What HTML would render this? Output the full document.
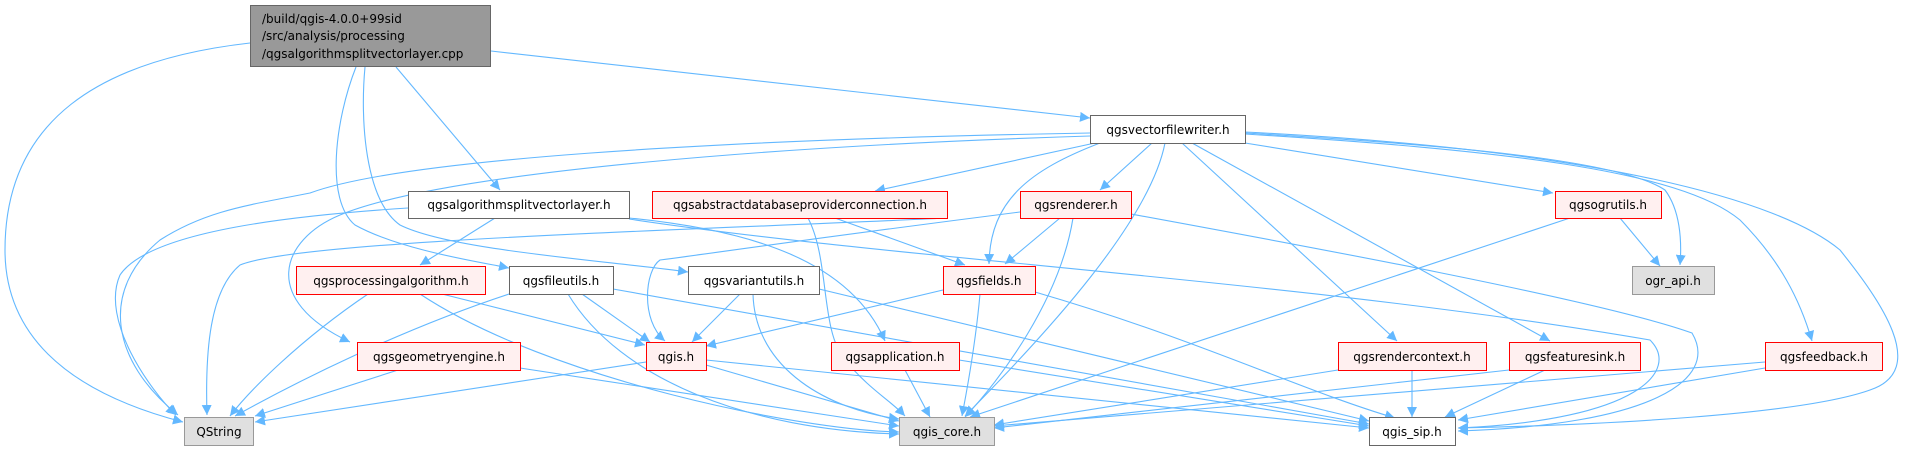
<!DOCTYPE html>
<html><head><meta charset="utf-8"><style>
html,body{margin:0;padding:0;background:#fff}
svg{display:block}
text{font-family:"DejaVu Sans","Liberation Sans",sans-serif;font-size:12px;fill:#000}
.e{fill:none;stroke:#63b8ff;stroke-width:1.1}
</style></head><body>
<svg width="1905" height="451" viewBox="0 0 1905 451" xmlns="http://www.w3.org/2000/svg">
<defs><marker id="a" markerUnits="userSpaceOnUse" markerWidth="11" markerHeight="10" refX="10" refY="5" orient="auto"><path d="M0,0 L10,5 L0,10 Z" fill="#63b8ff"/></marker></defs>
<g class="e" marker-end="url(#a)">
<path d="M250,43 C100,60 5,120 5,250 C5,330 60,390 183,422"/>
<path d="M491,51 L1090,118"/>
<path d="M396,67 L500,190"/>
<path d="M356,67 C335,120 325,200 355,225 C400,250 480,262 509,268"/>
<path d="M365,67 C360,120 365,200 400,225 C450,250 600,260 688,272"/>
<path d="M1090,133 C700,140 400,160 310,193 C250,205 207,210 160,240 C100,290 110,360 178,415"/>
<path d="M1090,136 C800,145 450,170 340,215 C280,240 260,300 350,342"/>
<path d="M1095,143 L875,191"/>
<path d="M1152,143 L1100,190"/>
<path d="M1100,143 C1030,170 990,200 989,264"/>
<path d="M1165,143 C1150,220 1050,330 965,416"/>
<path d="M1182,143 L1397,341"/>
<path d="M1192,143 L1550,341"/>
<path d="M1245,143 L1553,193"/>
<path d="M1245,133 C1450,145 1620,160 1665,190 C1680,210 1682,240 1680,265"/>
<path d="M1245,134 C1500,150 1680,170 1740,220 C1780,260 1800,300 1812,341"/>
<path d="M1245,132 C1600,150 1780,200 1840,250 C1880,300 1930,370 1870,390 C1800,415 1600,425 1458,428"/>
<path d="M408,208 C300,215 150,230 120,275 C100,320 150,390 176,415"/>
<path d="M495,218 L420,265"/>
<path d="M629,218 C750,230 850,260 885,341"/>
<path d="M629,219 C900,260 1300,280 1650,340 C1680,370 1640,420 1458,428"/>
<path d="M808,218 C830,260 820,330 845,360 C870,390 890,400 905,416"/>
<path d="M835,218 L965,265"/>
<path d="M947,218 C700,230 300,240 240,265 C210,290 205,350 207,415"/>
<path d="M1020,212 C800,240 700,255 660,260 C645,270 640,320 665,341"/>
<path d="M1060,218 L1005,264"/>
<path d="M1073,218 C1060,300 1000,380 965,417"/>
<path d="M1131,214 C1300,245 1600,300 1692,333 C1720,380 1650,425 1458,431"/>
<path d="M943,290 L706,346"/>
<path d="M980,294 C975,350 965,400 962,416"/>
<path d="M1035,292 C1200,340 1300,390 1395,418"/>
<path d="M368,294 C300,340 250,390 230,416"/>
<path d="M442,294 L645,345"/>
<path d="M420,294 C550,380 800,430 899,432"/>
<path d="M509,294 C400,330 300,380 235,416"/>
<path d="M582,294 L650,342"/>
<path d="M568,294 C620,380 750,430 899,434"/>
<path d="M613,289 L1369,424"/>
<path d="M740,294 L692,342"/>
<path d="M753,294 C755,370 830,410 899,419"/>
<path d="M819,289 L1369,421"/>
<path d="M398,370 L255,416"/>
<path d="M520,368 L899,426"/>
<path d="M646,362 L255,422"/>
<path d="M706,365 L899,421"/>
<path d="M706,360 L1369,428"/>
<path d="M905,370 L930,417"/>
<path d="M959,360 L1369,426"/>
<path d="M1338,370 L994,425"/>
<path d="M1412,370 L1412,417"/>
<path d="M1509,370 L994,428"/>
<path d="M1545,370 L1445,417"/>
<path d="M1765,362 L994,426"/>
<path d="M1765,368 L1458,420"/>
<path d="M1570,218 L970,417"/>
<path d="M1620,218 L1660,266"/>
</g>
<g stroke-width="1">
<rect x="250.5" y="5.5" width="240" height="61" fill="#999" stroke="#666"/>
<rect x="184.5" y="417.5" width="69" height="28" fill="#e0e0e0" stroke="#999"/>
<rect x="408.5" y="191.5" width="221" height="27" fill="#fff" stroke="#666"/>
<rect x="296.5" y="266.5" width="189" height="28" fill="#fff0f0" stroke="#f00"/>
<rect x="357.5" y="342.5" width="163" height="28" fill="#fff0f0" stroke="#f00"/>
<rect x="509.5" y="266.5" width="104" height="28" fill="#fff" stroke="#666"/>
<rect x="688.5" y="266.5" width="131" height="28" fill="#fff" stroke="#666"/>
<rect x="646.5" y="342.5" width="60" height="28" fill="#fff0f0" stroke="#f00"/>
<rect x="652.5" y="191.5" width="295" height="27" fill="#fff0f0" stroke="#f00"/>
<rect x="831.5" y="342.5" width="128" height="28" fill="#fff0f0" stroke="#f00"/>
<rect x="899.5" y="417.5" width="95" height="28" fill="#e0e0e0" stroke="#999"/>
<rect x="1090.5" y="115.5" width="155" height="28" fill="#fff" stroke="#666"/>
<rect x="1020.5" y="191.5" width="111" height="27" fill="#fff0f0" stroke="#f00"/>
<rect x="943.5" y="266.5" width="92" height="28" fill="#fff0f0" stroke="#f00"/>
<rect x="1338.5" y="342.5" width="148" height="28" fill="#fff0f0" stroke="#f00"/>
<rect x="1369.5" y="417.5" width="86" height="28" fill="#fff" stroke="#666"/>
<rect x="1555.5" y="191.5" width="106" height="27" fill="#fff0f0" stroke="#f00"/>
<rect x="1632.5" y="266.5" width="82" height="28" fill="#e0e0e0" stroke="#999"/>
<rect x="1509.5" y="342.5" width="131" height="28" fill="#fff0f0" stroke="#f00"/>
<rect x="1765.5" y="342.5" width="117" height="28" fill="#fff0f0" stroke="#f00"/>
</g>
<g>
<text x="262" y="23">/build/qgis-4.0.0+99sid</text>
<text x="262" y="40">/src/analysis/processing</text>
<text x="262" y="58">/qgsalgorithmsplitvectorlayer.cpp</text>
<g text-anchor="middle">
<text x="219" y="436">QString</text>
<text x="519" y="209">qgsalgorithmsplitvectorlayer.h</text>
<text x="391" y="285">qgsprocessingalgorithm.h</text>
<text x="439" y="361">qgsgeometryengine.h</text>
<text x="561" y="285">qgsfileutils.h</text>
<text x="754" y="285">qgsvariantutils.h</text>
<text x="676" y="361">qgis.h</text>
<text x="800" y="209">qgsabstractdatabaseproviderconnection.h</text>
<text x="895" y="361">qgsapplication.h</text>
<text x="947" y="436">qgis_core.h</text>
<text x="1168" y="134">qgsvectorfilewriter.h</text>
<text x="1076" y="209">qgsrenderer.h</text>
<text x="989" y="285">qgsfields.h</text>
<text x="1412" y="361">qgsrendercontext.h</text>
<text x="1412" y="436">qgis_sip.h</text>
<text x="1608" y="209">qgsogrutils.h</text>
<text x="1673" y="285">ogr_api.h</text>
<text x="1575" y="361">qgsfeaturesink.h</text>
<text x="1824" y="361">qgsfeedback.h</text>
</g>
</g>
</svg>
</body></html>
